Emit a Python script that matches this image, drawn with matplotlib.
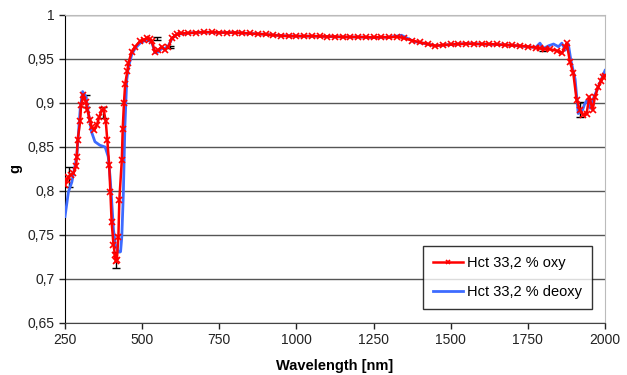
import matplotlib.pyplot as plt

plt.rcParams['font.family'] = ['Liberation Sans', 'DejaVu Sans']

# Hct 33,2 % oxy (red, with markers)
wl_oxy = [250, 255, 261, 268, 277, 286, 288, 291, 299, 302, 309, 318, 322, 331, 336,
          345, 353, 361, 369, 375, 382, 387, 393, 397, 401, 407, 412, 415, 418, 423,
          426, 434, 437, 441, 445, 452, 455, 466, 477, 493, 505, 515, 525, 531, 542,
          552, 563, 574, 585, 596, 605, 612, 625, 650, 675, 700, 725, 750, 775, 800,
          825, 850, 875, 900, 925, 950, 975, 1000, 1025, 1050, 1075, 1100, 1125, 1150,
          1175, 1200, 1225, 1250, 1275, 1300, 1325, 1350, 1375, 1400, 1425, 1450, 1475,
          1500, 1525, 1550, 1575, 1600, 1625, 1650, 1675, 1700, 1725, 1750, 1775, 1790,
          1805, 1822, 1843, 1860, 1871, 1876, 1886, 1897, 1908, 1919, 1930, 1940, 1949,
          1960, 1967, 1978, 1988, 1994, 2000]
g_oxy = [0.807, 0.812, 0.816, 0.818, 0.820, 0.828, 0.839, 0.858, 0.879, 0.898, 0.909,
         0.901, 0.892, 0.881, 0.873, 0.869, 0.875, 0.884, 0.892, 0.893, 0.879, 0.858,
         0.830, 0.799, 0.765, 0.739, 0.727, 0.720, 0.722, 0.748, 0.790, 0.835, 0.871,
         0.900, 0.922, 0.936, 0.945, 0.958, 0.964, 0.970, 0.972, 0.9735, 0.973, 0.970,
         0.958, 0.960, 0.964, 0.960, 0.964, 0.9735, 0.976, 0.978, 0.979, 0.9795, 0.980,
         0.9805, 0.9805, 0.980, 0.980, 0.980, 0.9795, 0.979, 0.9785, 0.978, 0.977,
         0.9765, 0.976, 0.976, 0.976, 0.976, 0.9758, 0.9755, 0.9755, 0.975, 0.975,
         0.975, 0.9748, 0.9745, 0.975, 0.9745, 0.9755, 0.9735, 0.971, 0.969, 0.967,
         0.9648, 0.966, 0.9665, 0.967, 0.9675, 0.9672, 0.967, 0.967, 0.9665, 0.966,
         0.9655, 0.965, 0.964, 0.963, 0.962, 0.9615, 0.961, 0.9595, 0.9565, 0.964,
         0.968, 0.947, 0.934, 0.903, 0.892, 0.886, 0.8875, 0.907, 0.892, 0.907, 0.9185,
         0.925, 0.929, 0.931]

# Hct 33,2 % deoxy (blue)
wl_deoxy = [250, 261, 272, 288, 299, 307, 318, 326, 336, 347, 363, 380, 390, 396, 401,
            407, 414, 423, 430, 434, 439, 444, 450, 455, 466, 477, 493, 515, 531, 542,
            552, 563, 574, 585, 596, 612, 650, 700, 750, 800, 850, 900, 950, 1000, 1050,
            1100, 1150, 1200, 1250, 1300, 1325, 1340, 1360, 1380, 1400, 1425, 1450, 1500,
            1550, 1600, 1650, 1700, 1750, 1775, 1789, 1800, 1817, 1833, 1849, 1860, 1871,
            1881, 1889, 1903, 1913, 1927, 1934, 1941, 1952, 1962, 1973, 1988, 2000]
g_deoxy = [0.771, 0.799, 0.810, 0.839, 0.892, 0.913, 0.907, 0.888, 0.867, 0.856, 0.852,
           0.850, 0.839, 0.816, 0.790, 0.756, 0.737, 0.731, 0.731, 0.748, 0.797, 0.873,
           0.926, 0.940, 0.955, 0.962, 0.968, 0.972, 0.969, 0.957, 0.958, 0.962, 0.962,
           0.965, 0.973, 0.978, 0.9795, 0.9805, 0.980, 0.980, 0.979, 0.978, 0.9765,
           0.976, 0.976, 0.9755, 0.975, 0.975, 0.9745, 0.9748, 0.976, 0.977, 0.9735,
           0.970, 0.9685, 0.967, 0.965, 0.9665, 0.9675, 0.967, 0.9665, 0.9655, 0.964,
           0.963, 0.968, 0.962, 0.965, 0.967, 0.964, 0.968, 0.960, 0.967, 0.949, 0.927,
           0.888, 0.892, 0.899, 0.903, 0.894, 0.905, 0.914, 0.927, 0.937]

# error bars on the oxy curve
wl_err = [262, 318, 373, 415, 547, 590, 1799, 1919]
g_err = [0.816, 0.902, 0.889, 0.722, 0.9735, 0.9635, 0.961, 0.8925]
err = [0.011, 0.007, 0.006, 0.009, 0.0015, 0.0015, 0.002, 0.0085]

fig = plt.figure(figsize=(6.27, 3.75), dpi=100)
ax = fig.add_axes([0.1037, 0.1387, 0.8613, 0.8213])

ax.errorbar(wl_err, g_err, yerr=err, fmt='none', ecolor='black', elinewidth=1,
            capsize=3, zorder=2)
ax.plot(wl_oxy, g_oxy, color='#ff0000', lw=1.8, marker='x', ms=4, mew=1.2,
        label='Hct 33,2 % oxy', zorder=4)
ax.plot(wl_deoxy, g_deoxy, color='#3d6bff', lw=2, label='Hct 33,2 % deoxy', zorder=3)

ax.set_xlim(250, 2000)
ax.set_ylim(0.65, 1.0)
ax.set_xticks([250, 500, 750, 1000, 1250, 1500, 1750, 2000])
ax.set_yticks([0.65, 0.7, 0.75, 0.8, 0.85, 0.9, 0.95, 1.0])
ax.set_yticklabels(['0,65', '0,7', '0,75', '0,8', '0,85', '0,9', '0,95', '1'])
ax.tick_params(labelsize=10, colors='#222222', length=4, width=1)
ax.grid(axis='y', color='#555555', lw=1)
ax.set_axisbelow(True)

ax.spines['left'].set_color('black')
ax.spines['bottom'].set_color('#444444')
ax.spines['right'].set_color('#bbbbbb')
ax.spines['top'].set_color('#bbbbbb')

ax.set_xlabel('Wavelength [nm]', fontsize=10.5, fontweight='bold', labelpad=8)
ax.set_ylabel('g', fontsize=10.5, fontweight='bold', labelpad=4)

leg = ax.legend(loc='lower right', bbox_to_anchor=(0.976, 0.045), fontsize=10.5,
                frameon=True, fancybox=False, edgecolor='black', borderpad=0.7,
                borderaxespad=0, labelspacing=1.0, handlelength=2.0,
                handletextpad=0.3, markerscale=0.8)
leg.get_frame().set_linewidth(1)

fig.savefig('out.png', dpi=100)
